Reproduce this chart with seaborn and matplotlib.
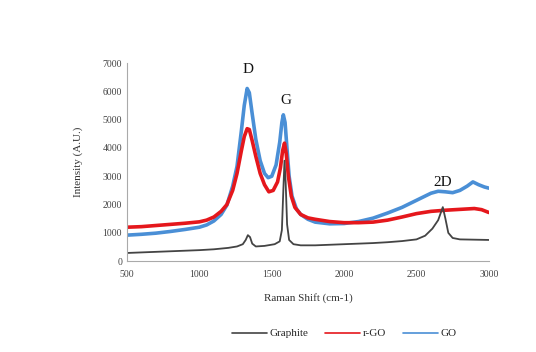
import numpy as np
import pandas as pd
import matplotlib
matplotlib.use("Agg")
import matplotlib.pyplot as plt
import seaborn as sns

# Raman spectra
graphite_x = [500, 600, 700, 800, 900, 1000, 1100, 1200, 1260, 1300, 1320, 1335, 1350, 1365, 1390,
              1450, 1520, 1555, 1570, 1580, 1588, 1596, 1606, 1620, 1650, 1700, 1800, 1900, 2000,
              2100, 2200, 2300, 2400, 2500, 2560, 2610, 2650, 2682, 2700, 2720, 2750, 2800, 2900, 3000]
graphite_y = [290, 310, 330, 350, 370, 390, 420, 470, 520, 600, 750, 920, 850, 620, 520,
              540, 600, 700, 1100, 2500, 3550, 2800, 1300, 750, 600, 560, 560, 580, 600,
              620, 640, 670, 710, 770, 900, 1150, 1450, 1910, 1500, 1000, 820, 770, 760, 750]

rgo_x = [500, 600, 700, 800, 900, 1000, 1050, 1100, 1150, 1190, 1230, 1260, 1290, 1310, 1330,
         1345, 1365, 1390, 1420, 1450, 1480, 1510, 1540, 1560, 1575, 1588, 1600, 1615, 1635,
         1660, 1700, 1750, 1800, 1900, 2000, 2100, 2200, 2300, 2400, 2500, 2600, 2700, 2800,
         2900, 2950, 3000]
rgo_y = [1200, 1220, 1260, 1300, 1340, 1390, 1450, 1560, 1760, 2000, 2500, 3100, 3900, 4400, 4680,
         4650, 4250, 3700, 3100, 2700, 2450, 2500, 2800, 3300, 3900, 4170, 3800, 3000, 2300,
         1900, 1650, 1530, 1480, 1400, 1360, 1360, 1380, 1450, 1560, 1680, 1760, 1800, 1830,
         1860, 1820, 1720]

go_x = [500, 600, 700, 800, 900, 1000, 1050, 1100, 1150, 1190, 1230, 1260, 1290, 1310, 1330,
        1345, 1365, 1390, 1420, 1450, 1475, 1500, 1530, 1555, 1570, 1580, 1592, 1605, 1620,
        1640, 1670, 1700, 1750, 1800, 1900, 2000, 2100, 2200, 2300, 2400, 2500, 2600, 2650,
        2700, 2750, 2800, 2850, 2890, 2930, 2970, 3000]
go_y = [920, 950, 990, 1050, 1120, 1200, 1280, 1420, 1650, 1980, 2650, 3350, 4600, 5500, 6100,
        5950, 5200, 4300, 3550, 3100, 2950, 3000, 3400, 4200, 4900, 5170, 4900, 4000, 3000,
        2300, 1850, 1650, 1480, 1380, 1320, 1330, 1400, 1520, 1700, 1900, 2150, 2400, 2470,
        2450, 2420, 2500, 2650, 2800, 2700, 2620, 2580]

peak_labels = ["D", "G", "2D"]
peak_pos = [(1335, 6550), (1600, 5450), (2680, 2550)]

sns.set_style("white")
plt.rcParams["font.family"] = ["Liberation Serif", "DejaVu Serif"]

fig = plt.figure(figsize=(5.36, 3.52), dpi=100)
ax = fig.add_axes([0.237, 0.258, 0.675, 0.563])

sns.lineplot(x=go_x, y=go_y, ax=ax, color="#4a8fd6", linewidth=2.6, label="GO", sort=False)
sns.lineplot(x=rgo_x, y=rgo_y, ax=ax, color="#e5171c", linewidth=2.6, label="r-GO", sort=False)
sns.lineplot(x=graphite_x, y=graphite_y, ax=ax, color="#444444", linewidth=1.3, label="Graphite", sort=False)

for lab, (px, py) in zip(peak_labels, peak_pos):
    ax.text(px, py, lab, ha="center", va="bottom", fontsize=11, color="#111111")

ax.set_xlim(500, 3000)
ax.set_ylim(0, 7000)
ax.set_xticks(np.arange(500, 3001, 500))
ax.set_yticks(np.arange(0, 7001, 1000))
ax.set_xlabel("Raman Shift (cm-1)", fontsize=8, color="#333333", labelpad=10)
ax.set_ylabel("Intensity (A.U.)", fontsize=8, color="#333333", labelpad=14)
ax.tick_params(axis="both", labelsize=7, colors="#444444", length=3, direction="out")
ax.tick_params(axis="y", length=0)
for s in ["top", "right"]:
    ax.spines[s].set_visible(False)
for s in ["left", "bottom"]:
    ax.spines[s].set_color("#aaaaaa")
    ax.spines[s].set_linewidth(0.8)

handles, labels = ax.get_legend_handles_labels()
leg = ax.legend(handles[::-1], labels[::-1], loc="upper center", bbox_to_anchor=(0.6, -0.29),
                ncol=3, frameon=False, fontsize=8, handlelength=3.2, columnspacing=1.5,
                handletextpad=0.2)
for line in leg.get_lines():
    line.set_linewidth(1.2)

fig.savefig("out.png", dpi=100)
